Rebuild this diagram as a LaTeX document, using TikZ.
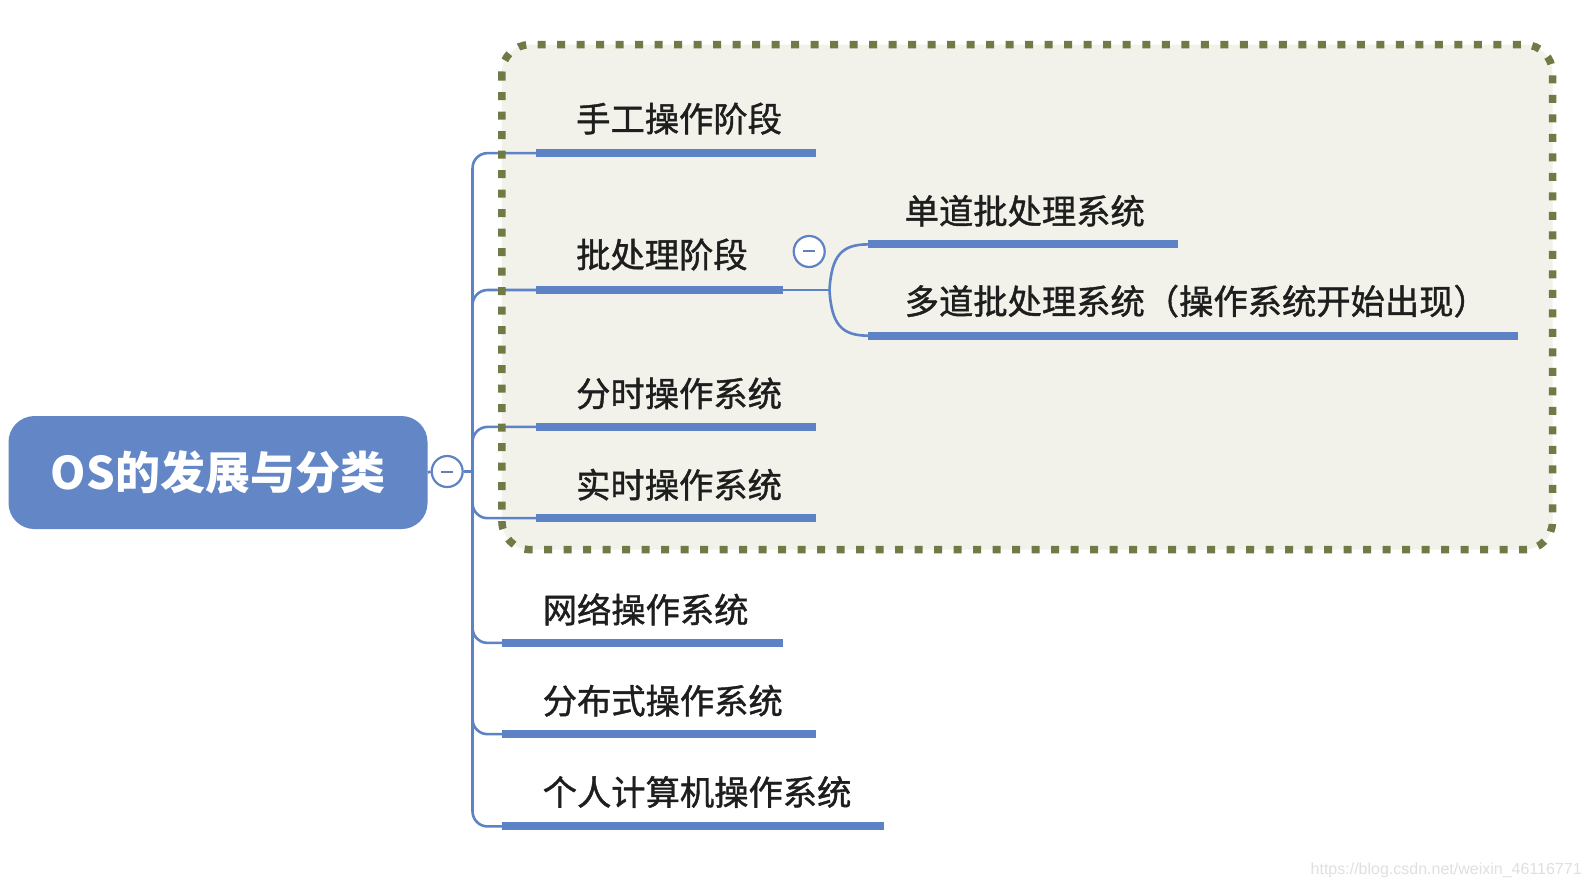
\documentclass[tikz,border=0pt]{standalone}
\usepackage{fontspec}
\newfontfamily\cjk{Noto Sans CJK SC}
\newfontfamily\cjkmed{Noto Sans CJK SC}[FakeBold=1.2]
\newfontfamily\wmfont{Liberation Sans}
\definecolor{mainblue}{HTML}{6286C6}
\definecolor{barblue}{HTML}{5D82C5}
\definecolor{boxfill}{HTML}{F2F2EB}
\definecolor{olive}{HTML}{6F7A45}
\definecolor{txt}{HTML}{1E1E1E}
\tikzset{
  topic/.style={anchor=west, inner sep=0pt, font=\cjkmed\fontsize{34.3}{37}\selectfont, text=txt},
  bar/.style={line width=8pt, draw=barblue},
  conn/.style={line width=2.6pt, draw=barblue},
  collapse/.style={circle, draw=barblue, line width=2.2pt, fill=white, minimum size=31pt, inner sep=0pt},
}
\begin{document}
\begin{tikzpicture}[x=1.014pt,y=-1.014pt]
\useasboundingbox (0,0) rectangle (1568,876.7);
\fill[white] (0,0) rectangle (1568,876.7);
% highlight box fill
\fill[boxfill, rounded corners=28pt] (495,44) rectangle (1531,542);

% root
\node (root) [fill=mainblue, rounded corners=26pt, minimum width=419pt, minimum height=113pt, inner sep=0pt,
  text=white, font=\cjk\bfseries\fontsize{45}{48}\selectfont] at (215,466) {OS的发展与分类};
\node (rc) [collapse] at (441,465) {};
\draw[line width=2pt, draw=barblue!80!gray] ([xshift=-6pt]rc.center) -- ([xshift=6pt]rc.center);

% bar coordinates
\coordinate (b1s) at (529,151); \coordinate (b1e) at (805,151);
\coordinate (b2s) at (529,286); \coordinate (b2e) at (772,286);
\coordinate (b3s) at (529,421); \coordinate (b3e) at (805,421);
\coordinate (b4s) at (529,511); \coordinate (b4e) at (805,511);
\coordinate (b5s) at (495,634); \coordinate (b5e) at (772,634);
\coordinate (b6s) at (495,724); \coordinate (b6e) at (805,724);
\coordinate (b7s) at (495,815); \coordinate (b7e) at (872,815);
\coordinate (c1s) at (856,241); \coordinate (c1e) at (1162,241);
\coordinate (c2s) at (856,331); \coordinate (c2e) at (1497,331);
\coordinate (tr) at (466,465);
\coordinate (jn) at (818,286);

% connectors
\draw[conn] (root.east) -- (rc.west);
\draw[conn] (rc.east) -- (tr);
\draw[conn, rounded corners=15pt] (b1s) -| (tr) |- (b7s);
\draw[conn, rounded corners=15pt] (466,306) |- (b2s);
\draw[conn, rounded corners=15pt] (466,441) |- (b3s);
\draw[conn, rounded corners=15pt] (466,491) |- (b4s);
\draw[conn, rounded corners=15pt] (466,614) |- (b5s);
\draw[conn, rounded corners=15pt] (466,704) |- (b6s);
\draw[conn] (b2e) -- (jn);
\draw[conn] (jn) .. controls (820,252) and (830,241) .. (c1s);
\draw[conn] (jn) .. controls (820,320) and (830,331) .. (c2s);

% bars
\foreach \i in {1,...,7} { \draw[bar] (b\i s) -- (b\i e); }
\draw[bar] (c1s) -- (c1e);
\draw[bar] (c2s) -- (c2e);

% batch collapse
\node (bc) [collapse] at (798,248) {};
\draw[line width=2pt, draw=barblue!80!gray] ([xshift=-6pt]bc.center) -- ([xshift=6pt]bc.center);

% dotted border
\draw[olive, line width=7.5pt, dash pattern=on 8pt off 11.5pt, rounded corners=28pt] (495,44) rectangle (1531,542);

% labels
\node (t1) [topic] at (568,117) {手工操作阶段};
\node (t2) [topic] at (568,251) {批处理阶段};
\node (t3) [topic] at (568,388) {分时操作系统};
\node (t4) [topic] at (568,478) {实时操作系统};
\node (t5) [topic] at (535,601) {网络操作系统};
\node (t6) [topic] at (535,691) {分布式操作系统};
\node (t7) [topic] at (535,781) {个人计算机操作系统};
\node (s1) [topic] at (892,208) {单道批处理系统};
\node (s2) [topic] at (892,297) {多道批处理系统（操作系统开始出现）};

% watermark
\node (wm) [anchor=east, inner sep=0pt, text=black!12, font=\wmfont\fontsize{16}{18}\selectfont] at (1560,858) {https://blog.csdn.net/weixin\_46116771};
\end{tikzpicture}
\end{document}
